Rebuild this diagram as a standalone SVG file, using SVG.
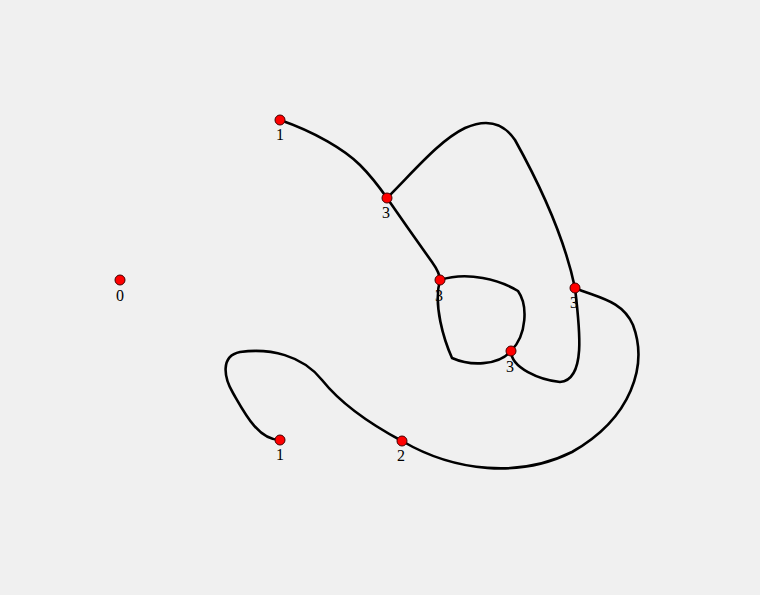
<svg xmlns="http://www.w3.org/2000/svg" width="760" height="595" viewBox="0 0 760 595">
<style>
.lbl{font-family:"Liberation Serif",serif;font-size:16px;fill:#000;text-anchor:middle}
.n{fill:#ff0000;stroke:#400000;stroke-width:1}
.e{fill:none;stroke:#000;stroke-width:2.6;stroke-linecap:round}
</style>
<rect width="760" height="595" fill="#f0f0f0"/>
<g id="labels">
<text class="lbl" x="120" y="301">0</text>
<text class="lbl" x="280" y="140">1</text>
<text class="lbl" x="386" y="218">3</text>
<text class="lbl" x="439" y="301">3</text>
<text class="lbl" x="510" y="372">3</text>
<text class="lbl" x="574" y="308">3</text>
<text class="lbl" x="280" y="460">1</text>
<text class="lbl" x="401" y="461">2</text>
</g>
<g id="connectors">
<path class="e" d="M280,120 C315,132 345,150 360,165 C372,177 380,188 387,198"/>
<path class="e" d="M387,198 C405,224 422,248 432,262 C437,269 440,275 440,280"/>
<path class="e" d="M387,198 C415,170 440,140 465,128 C490,117 505,125 515,140 C540,185 565,240 575,288"/>
<path class="e" d="M440,280 C468,271 500,280 518,291 C528,305 527,335 511,351"/>
<path class="e" d="M511,351 C498,366 470,366 452,358 C444,340 433,305 440,280"/>
<path class="e" d="M511,351 C511,368 540,380 560,382 C586,380 580,330 575,288"/>
<path class="e" d="M575,288 C598,298 622,300 633,325 C648,365 632,418 572,452 C520,478 455,472 402,441"/>
<path class="e" d="M402,441 C372,425 342,405 322,380 C302,355 270,348 240,352 C220,356 224,378 233,393 C244,412 258,440 280,440"/>
</g>
<g id="n0"><circle class="n" cx="120" cy="280" r="5"/></g>
<g id="n1a"><circle class="n" cx="280" cy="120" r="5"/></g>
<g id="n3a"><circle class="n" cx="387" cy="198" r="5"/></g>
<g id="n3b"><circle class="n" cx="440" cy="280" r="5"/></g>
<g id="n3c"><circle class="n" cx="511" cy="351" r="5"/></g>
<g id="n3d"><circle class="n" cx="575" cy="288" r="5"/></g>
<g id="n1b"><circle class="n" cx="280" cy="440" r="5"/></g>
<g id="n2"><circle class="n" cx="402" cy="441" r="5"/></g>
</svg>
